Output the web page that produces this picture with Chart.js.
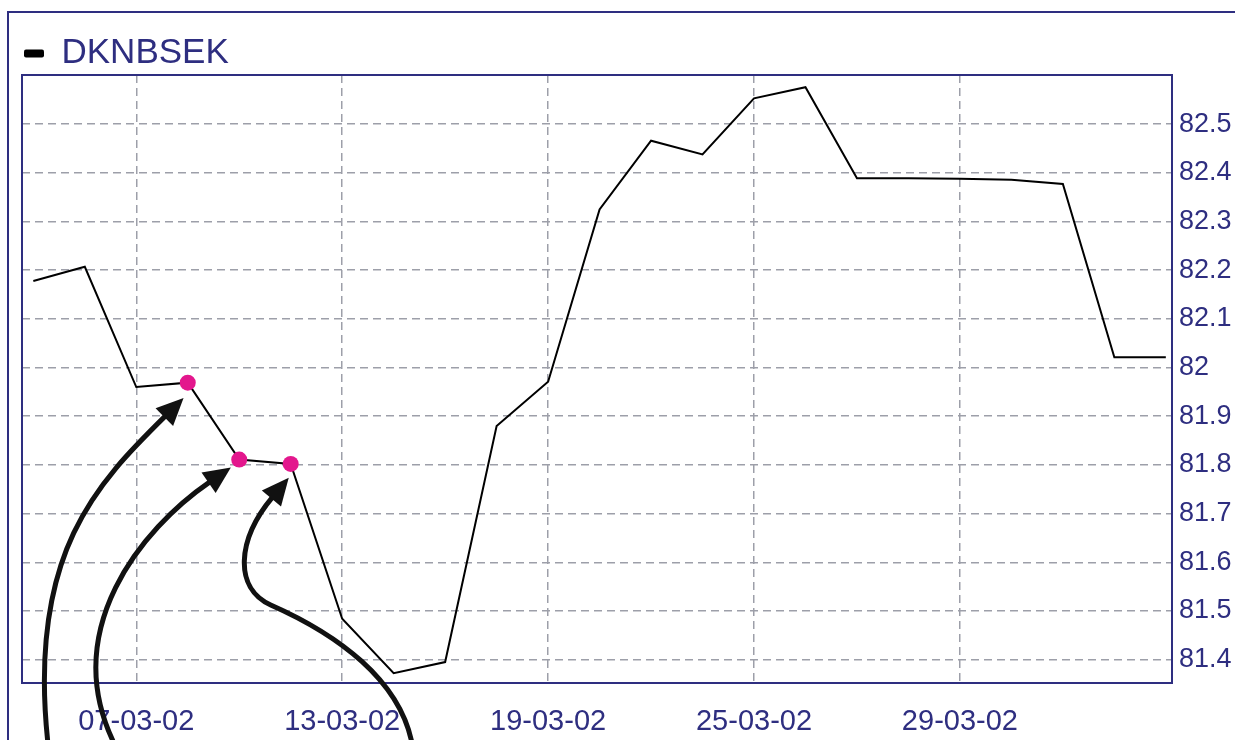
<!DOCTYPE html>
<html>
<head>
<meta charset="utf-8">
<title>DKNBSEK</title>
<script src="https://cdn.jsdelivr.net/npm/chart.js@4.4.1/dist/chart.umd.min.js"></script>
<style>
    html, body { margin: 0; padding: 0; background: #ffffff; overflow: hidden; }
    #wrap { position: relative; width: 1235px; height: 740px; }
    #frame { position: absolute; left: 7px; top: 11px; width: 1260px; height: 760px;
             border-top: 2px solid #2e2e80; border-left: 2px solid #2e2e80; }
    #rateChart { position: absolute; left: 0; top: 0; }
</style>
</head>
<body>
<div id="wrap">
    <div id="frame"></div>
    <canvas id="rateChart" width="1235" height="740"></canvas>
</div>
<script>
    "use strict";

    // series data
    var seriesName = "DKNBSEK";
    var categories = ["05-03-02", "06-03-02", "07-03-02", "08-03-02", "11-03-02", "12-03-02",
        "13-03-02", "14-03-02", "15-03-02", "18-03-02", "19-03-02", "20-03-02", "21-03-02",
        "22-03-02", "25-03-02", "26-03-02", "27-03-02", "28-03-02", "29-03-02", "01-04-02",
        "02-04-02", "03-04-02", "04-04-02"];
    var rates = [82.178, 82.207, 81.960, 81.969, 81.811, 81.802, 81.484, 81.372, 81.395,
        81.880, 81.971, 82.325, 82.466, 82.438, 82.553, 82.576, 82.389, 82.389, 82.388,
        82.386, 82.377, 82.021, 82.021];
    var markedIdx = [3, 4, 5];
    var xTickLabels = ["07-03-02", "13-03-02", "19-03-02", "25-03-02", "29-03-02"];
    var yTicks = [81.4, 81.5, 81.6, 81.7, 81.8, 81.9, 82.0, 82.1, 82.2, 82.3, 82.4, 82.5];

    var navy = "#2e2e80";
    var gridGray = "#9d9fa9";
    var fontFamily = "'Liberation Sans', Arial, sans-serif";

    // annotation arrows: cubic segments, offsets from the marked point they aim at
    var arrows = [
        { target: 3, segs: [[-140, 359, -160, 170, -90, 100, -22, 33]] },
        { target: 4, segs: [[-126, 282, -179, 170, -99, 70, -29, 22]] },
        { target: 5, segs: [[121, 278, 108, 216, 48, 171, -20, 141],
                            [-20, 141, -57, 124, -54, 76, -18, 33]] }
    ];

    var points = rates.map(function (v, i) {
        return { x: i, y: v };
    });

    var plotFrame = {
        id: "plotFrame",
        beforeDatasetsDraw: function (chart) {
            var a = chart.chartArea;
            var ctx = chart.ctx;
            ctx.save();
            ctx.strokeStyle = navy;
            ctx.lineWidth = 2;
            ctx.strokeRect(a.left, a.top, a.right - a.left, a.bottom - a.top);
            ctx.restore();
        }
    };

    var arrowNotes = {
        id: "arrowNotes",
        afterDraw: function (chart) {
            var ctx = chart.ctx;
            var meta = chart.getDatasetMeta(0);
            ctx.save();
            ctx.strokeStyle = "#111111";
            ctx.fillStyle = "#111111";
            ctx.lineWidth = 5;
            ctx.lineCap = "round";
            arrows.forEach(function (ar) {
                var p = meta.data[ar.target];
                ctx.beginPath();
                ar.segs.forEach(function (s, k) {
                    if (k === 0) {
                        ctx.moveTo(p.x + s[0], p.y + s[1]);
                    }
                    ctx.bezierCurveTo(p.x + s[2], p.y + s[3], p.x + s[4], p.y + s[5], p.x + s[6], p.y + s[7]);
                });
                ctx.stroke();
                var last = ar.segs[ar.segs.length - 1];
                var dx = last[6] - last[4];
                var dy = last[7] - last[5];
                var len = Math.sqrt(dx * dx + dy * dy);
                dx /= len;
                dy /= len;
                var bx = p.x + last[6] - dx * 2;
                var by = p.y + last[7] - dy * 2;
                var headLen = 27;
                var halfW = 12.5;
                ctx.beginPath();
                ctx.moveTo(bx + dx * headLen, by + dy * headLen);
                ctx.lineTo(bx - dy * halfW, by + dx * halfW);
                ctx.lineTo(bx + dy * halfW, by - dx * halfW);
                ctx.closePath();
                ctx.fill();
            });
            ctx.restore();
        }
    };

    var ctx = document.getElementById("rateChart");
    var rateChart = new Chart(ctx, {
        type: "line",
        data: {
            datasets: [{
                label: seriesName,
                data: points,
                borderColor: "#000000",
                borderWidth: 2,
                tension: 0,
                fill: false,
                pointRadius: function (c) {
                    return markedIdx.indexOf(c.dataIndex) >= 0 ? 8 : 0;
                },
                pointBackgroundColor: "#e3178d",
                pointBorderWidth: 0,
                pointHoverRadius: 0
            }]
        },
        options: {
            responsive: false,
            animation: false,
            devicePixelRatio: 1,
            layout: {
                padding: { left: 22, top: 34, right: 0, bottom: 0 }
            },
            plugins: {
                legend: {
                    display: true,
                    position: "top",
                    align: "start",
                    maxHeight: 41,
                    labels: {
                        color: navy,
                        font: { family: fontFamily, size: 35 },
                        boxWidth: 20,
                        boxHeight: 8,
                        padding: 2,
                        generateLabels: function () {
                            return [{
                                text: seriesName,
                                fillStyle: "#000000",
                                strokeStyle: "#000000",
                                lineWidth: 0,
                                fontColor: navy,
                                borderRadius: 2,
                                datasetIndex: 0
                            }];
                        }
                    }
                },
                tooltip: { enabled: false }
            },
            scales: {
                x: {
                    type: "linear",
                    min: -0.22,
                    max: 22.12,
                    afterBuildTicks: function (scale) {
                        scale.ticks = xTickLabels.map(function (l) {
                            return { value: categories.indexOf(l) };
                        });
                    },
                    afterFit: function (scale) {
                        scale.height = 57;
                    },
                    ticks: {
                        callback: function (v) {
                            return categories[v];
                        },
                        color: navy,
                        font: { family: fontFamily, size: 29 },
                        padding: 22,
                        maxRotation: 0,
                        autoSkip: false
                    },
                    grid: { color: gridGray, lineWidth: 1.5, drawTicks: false },
                    border: { display: false, dash: [8, 5] }
                },
                y: {
                    type: "linear",
                    position: "right",
                    min: 81.352,
                    max: 82.601,
                    afterBuildTicks: function (scale) {
                        scale.ticks = yTicks.map(function (v) {
                            return { value: v };
                        });
                    },
                    afterFit: function (scale) {
                        scale.width = 63;
                    },
                    ticks: {
                        callback: function (v) {
                            return String(Math.round(v * 10) / 10);
                        },
                        color: navy,
                        font: { family: fontFamily, size: 27 },
                        padding: 7
                    },
                    grid: { color: gridGray, lineWidth: 1.5, drawTicks: false },
                    border: { display: false, dash: [8, 5] }
                }
            }
        },
        plugins: [plotFrame, arrowNotes]
    });
</script>
</body>
</html>
